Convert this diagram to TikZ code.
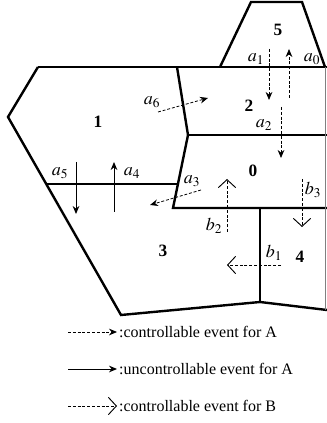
\documentclass[tikz,border=0pt]{standalone}
\usepackage{amsmath,mathptmx}
\usepackage{fontspec}
\setmainfont{Liberation Serif}
\usetikzlibrary{arrows.meta}

\begin{document}
\begin{tikzpicture}[x=0.75pt,y=-0.75pt,font=\fontsize{12}{14}\selectfont,
		wall/.style={line width=1.8pt,line join=miter},
		evdash/.style={line width=0.6pt,dash pattern=on 2.2pt off 1.4pt},
		ctrlA/.style={evdash,-{Stealth[length=6pt,width=5pt]}},
		uncA/.style={line width=0.7pt,-{Stealth[length=6pt,width=5pt]}},
		ctrlB/.style={evdash,-{Straight Barb[length=6pt,width=13pt,line width=0.7pt]}},
		room/.style={font=\fontsize{13}{14}\selectfont\bfseries},
		ev/.style={font=\fontsize{13.5}{15}\selectfont}]
		\useasboundingbox (0,0) rectangle (326,423);
		% walls of the rooms
		\draw[wall] (38,67) -- (8,117) -- (121,315) -- (260,302) -- (327,310);
		\draw[wall] (38,67) -- (327,67);
		\draw[wall] (220,67) -- (251,2) -- (302,2) -- (325,67);
		\draw[wall] (177,67) -- (188,135) -- (173,208) -- (327,208);
		\draw[wall] (188,135) -- (327,135);
		\draw[wall] (46,184) -- (178,184);
		\draw[wall] (260,208) -- (260,302);
		\draw[gray,line width=0.4pt] (325.5,67) -- (325.5,310);
		% room numbers
		\node[room] (r5) at (278,30) {5};
		\node[room] (r1) at (98,122) {1};
		\node[room] (r2) at (249,106) {2};
		\node[room] (r0) at (253,171) {0};
		\node[room] (r3) at (163,251) {3};
		\node[room] (r4) at (300,257) {4};
		% events of A
		\draw[ctrlA] (269,49) -- (269,100);
		\node[ev] (la1) at (256,59) {$a_1$};
		\draw[ctrlA] (289,98) -- (289,49);
		\node[ev] (la0) at (312,59) {$a_0$};
		\draw[ctrlA] (158,112) -- (208,98);
		\node[ev] (la6) at (152,102) {$a_6$};
		\draw[ctrlA] (281,107) -- (281,158);
		\node[ev] (la2) at (264,125) {$a_2$};
		\draw[ctrlA] (201,190) -- (150,205);
		\node[ev] (la3) at (192,181) {$a_3$};
		\draw[uncA] (76,162) -- (76,214);
		\node[ev] (la5) at (60,173) {$a_5$};
		\draw[uncA] (114,212) -- (114,162);
		\node[ev] (la4) at (132,173) {$a_4$};
		% events of B
		\draw[ctrlB] (227,232) -- (227,179);
		\node[ev] (lb2) at (214,226) {$b_2$};
		\draw[ctrlB] (302,179) -- (302,227);
		\node[ev] (lb3) at (313,190) {$b_3$};
		\draw[ctrlB] (281,265) -- (227,265);
		\node[ev] (lb1) at (274,253) {$b_1$};
		% legend
		\draw[ctrlA] (68,332) -- (117,332) node[right=-2pt] (k1) {:controllable event for A};
		\draw[uncA] (68,369) -- (117,369) node[right=-2pt] (k2) {:uncontrollable event for A};
		\draw[ctrlB] (68,406) -- (117,406) node[right=-2pt] (k3) {:controllable event for B};
\end{tikzpicture}
\end{document}
